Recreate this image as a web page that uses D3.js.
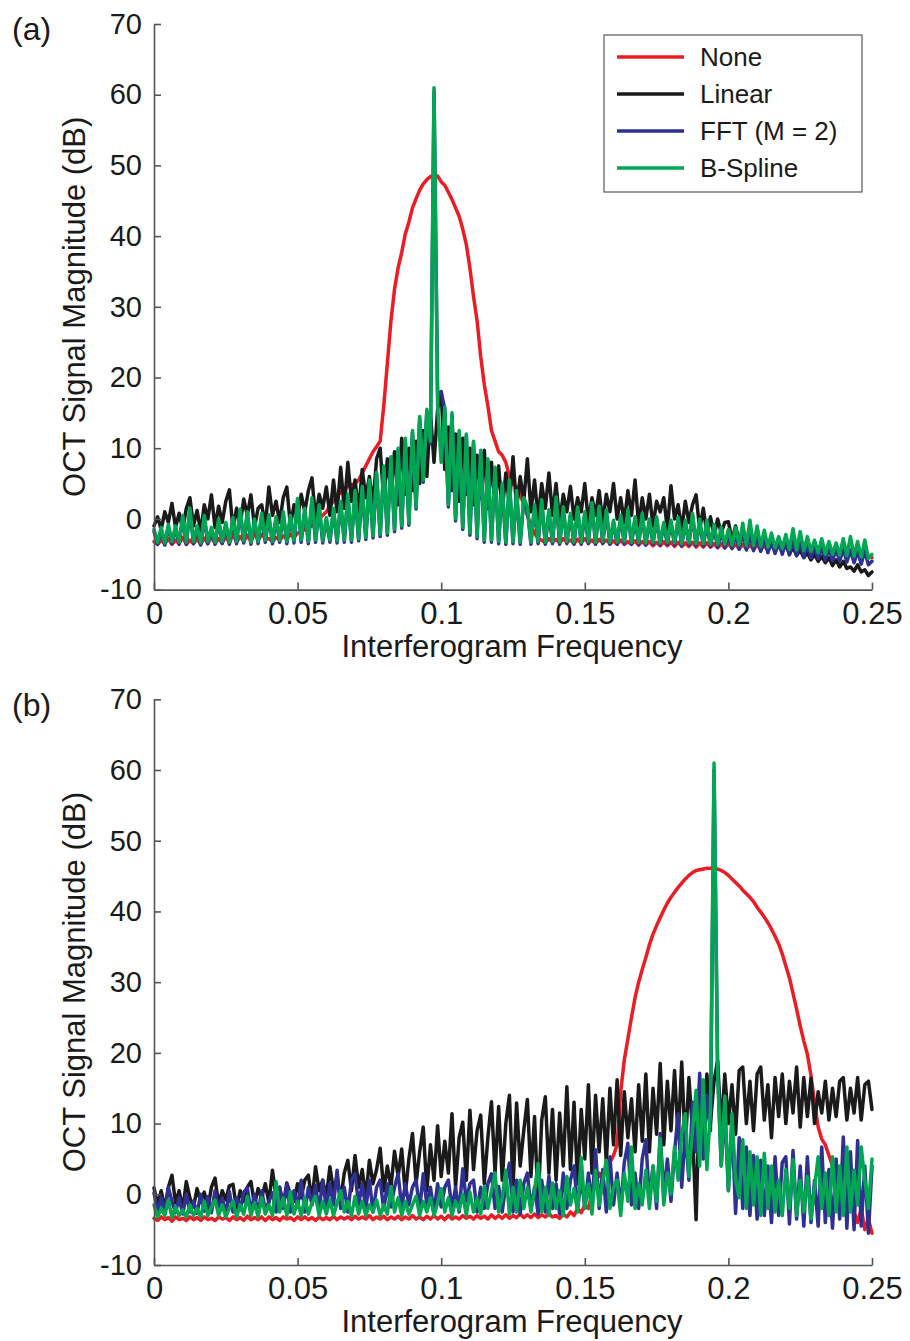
<!DOCTYPE html>
<html><head><meta charset="utf-8">
<script src="https://cdn.jsdelivr.net/npm/d3@7"></script>
<style>
body{margin:0;background:#fff;}
svg text{font-family:"Liberation Sans",Arial,Helvetica,sans-serif;fill:#1a1a1a;}
</style></head><body>
<svg id="chart" width="910" height="1341"></svg>
<script>
const seriesNames = ["None", "Linear", "FFT (M = 2)", "B-Spline"];
const seriesColors = ["#ec1c24", "#1a1a1a", "#2e3192", "#00a651"];
const xTicks = [0, 0.05, 0.1, 0.15, 0.2, 0.25];
const yTicks = [-10, 0, 10, 20, 30, 40, 50, 60, 70];
const xLabel = "Interferogram Frequency";
const yLabel = "OCT Signal Magnitude (dB)";
const panelLetters = ["(a)", "(b)"];
// sample frequencies (0 to 0.25, step 0.00125)
const freq = d3.range(201).map(i => +(i * 0.00125).toFixed(5));

// ---- panel (a) ----
const noneA = [
-3.2,-3.6,-3.0,-3.5,-2.8,-3.6,-3.0,-3.5,
-2.6,-3.6,-3.0,-3.5,-2.8,-3.6,-2.7,-3.5,
-2.5,-3.5,-2.8,-3.4,-2.5,-3.4,-2.2,-3.3,
-2.5,-3.2,-2.3,-3.2,-2.0,-3.0,-2.2,-2.8,
-2.8,-3.2,-2.6,-3.0,-2.4,-2.8,-2.2,-2.6,
-2.0,-1.8,-1.5,-1.2,-1.0,-0.5,0.0,0.5,
1.0,1.8,2.5,3.2,3.8,4.3,4.6,4.8,
5.0,5.5,6.5,7.5,8.5,9.5,10.2,11.0,
16.0,22.0,28.0,32.5,35.5,37.7,40.3,42.0,
44.0,45.3,46.5,47.4,48.0,48.4,48.6,48.5,
47.7,47.2,46.2,45.2,44.0,42.8,41.0,38.8,
35.5,31.5,28.0,23.0,19.0,16.0,12.5,11.0,
9.5,9.0,8.0,6.0,5.0,4.5,3.5,2.0,
0.5,-1.0,-2.0,-2.8,-3.0,-3.4,-2.8,-3.3,
-2.9,-3.4,-2.8,-3.3,-3.0,-3.5,-2.9,-3.4,
-2.8,-3.4,-3.0,-3.5,-2.9,-3.4,-3.0,-3.5,
-3.1,-3.6,-3.0,-3.6,-3.2,-3.6,-3.1,-3.7,
-3.2,-3.7,-3.2,-3.8,-3.3,-3.8,-3.2,-3.8,
-3.3,-3.9,-3.3,-3.9,-3.4,-3.9,-3.3,-4.0,
-3.4,-4.0,-3.4,-4.0,-3.5,-4.1,-3.5,-4.1,
-3.5,-4.1,-3.6,-4.2,-3.6,-4.2,-3.7,-4.3,
-3.7,-4.3,-3.8,-4.4,-3.8,-4.4,-3.9,-4.5,
-3.8,-4.5,-3.6,-4.6,-3.2,-4.6,-3.5,-4.7,
-3.8,-4.8,-3.6,-4.9,-4.0,-5.0,-4.2,-5.0,
-4.3,-5.1,-4.5,-5.2,-4.6,-5.3,-4.8,-5.4,
-5.5];
const linearA = [
-1.0,0.3,-1.5,1.0,-0.5,2.2,-1.2,0.8,
-1.5,1.5,3.0,-1.0,1.2,-1.8,2.0,0.0,
3.4,-1.2,1.8,-0.5,2.5,4.1,-1.5,1.5,
-0.8,2.8,0.5,3.4,-1.2,1.5,2.0,-1.0,
4.5,0.5,2.5,-0.5,3.0,4.5,-1.0,2.0,
0.0,3.5,1.0,4.0,5.8,0.0,3.5,1.5,
4.5,0.5,5.5,1.0,7.3,1.5,8.0,2.5,
5.5,1.0,7.0,3.0,6.0,2.0,8.5,10.0,
2.5,8.5,4.0,9.5,2.0,11.4,3.5,10.0,
4.0,11.0,5.0,12.5,6.0,15.0,8.0,15.5,
18.0,7.0,13.0,4.0,12.0,2.5,11.4,3.5,
10.0,2.0,9.0,3.0,9.7,1.5,8.0,2.0,
7.5,1.0,6.5,2.0,8.8,1.5,6.0,2.5,
8.5,1.0,5.5,0.0,5.0,1.5,6.5,0.5,
5.0,-0.5,3.5,1.0,4.6,0.0,3.0,1.0,
5.0,-0.5,3.0,0.5,4.0,-0.5,3.5,1.0,
5.0,0.0,3.0,-0.5,4.0,0.5,5.5,-1.0,
3.0,0.0,3.5,-1.0,2.5,1.0,3.0,-1.5,
4.7,0.0,2.0,-1.5,2.5,-0.5,2.0,3.4,
-1.5,1.5,-2.0,0.3,-2.5,0.0,-2.0,-0.5,
-0.4,-3.0,-1.0,-3.2,-1.5,-3.4,-1.2,-3.6,
-2.0,-3.8,-2.5,-4.2,-3.0,-4.5,-3.4,-4.6,
-3.6,-5.0,-4.0,-5.2,-4.4,-5.5,-4.8,-5.8,
-5.0,-6.0,-5.3,-6.2,-5.5,-6.6,-5.8,-6.8,
-6.0,-7.0,-6.8,-7.4,-6.5,-7.5,-7.2,-8.0,
-7.5];
const fftA = [
-1.8,-3.6,-1.5,-3.7,-1.1,-3.5,-1.3,-3.6,
0.2,-3.6,1.2,-3.5,-1.3,-3.7,0.2,-3.5,
-1.5,-3.6,-0.3,-3.5,-0.8,-3.6,-0.1,-3.5,
1.1,-3.4,0.7,-3.6,-0.3,-3.5,0.5,-3.3,
0.3,-3.5,0.0,-3.3,0.7,-3.5,0.2,-3.4,
2.6,-3.3,1.2,-3.5,2.7,-3.3,1.7,-3.4,
-0.1,-3.3,1.2,-3.4,2.2,-3.3,3.2,-3.3,
3.7,-3.1,4.3,-2.9,5.2,-2.7,6.3,-2.5,
7.2,-2.3,8.5,-1.8,9.7,-1.3,11.1,-0.9,
12.2,1.4,14.2,5.2,15.2,10.7,60.5,17.5,
18.0,15.5,1.7,14.7,-0.3,12.2,-1.5,11.7,
-2.3,10.7,-2.8,9.4,-3.3,8.2,-3.3,7.0,
-3.5,4.7,-3.6,5.2,-3.5,3.7,-3.6,2.7,
1.4,-3.6,1.7,-3.5,2.4,-3.6,1.0,-3.5,
2.8,-3.6,1.4,-3.5,0.5,-3.6,1.4,-3.6,
0.7,-3.5,2.0,-3.6,1.5,-3.5,1.0,-3.6,
-0.5,-3.6,0.2,-3.5,1.0,-3.6,0.0,-3.6,
0.5,-3.7,-0.3,-3.6,0.0,-3.7,-0.8,-3.6,
-0.5,-3.7,-0.1,-3.8,-0.5,-3.7,0.5,-3.8,
-0.5,-3.8,-0.8,-3.9,-1.3,-4.0,-1.8,-4.1,
-2.2,-4.2,-2.0,-4.3,-1.8,-4.4,-2.2,-4.5,
-2.5,-4.6,-2.8,-4.8,-3.0,-4.9,-3.3,-5.0,
-3.2,-5.1,-3.0,-5.2,-3.3,-5.4,-3.6,-5.5,
-3.9,-5.6,-4.0,-5.8,-4.2,-5.9,-4.3,-6.0,
-4.2,-6.1,-4.4,-6.2,-4.6,-6.4,-4.5,-6.5,
-6.0];
const bsplineA = [
-1.5,-3.3,-1.2,-3.4,-0.8,-3.2,-1.0,-3.3,
0.5,-3.3,1.5,-3.2,-1.0,-3.4,0.5,-3.2,
-1.2,-3.3,0.0,-3.2,-0.5,-3.3,0.2,-3.2,
1.4,-3.1,1.0,-3.3,0.0,-3.2,0.8,-3.0,
0.6,-3.2,0.3,-3.0,1.0,-3.2,0.5,-3.1,
2.9,-3.0,1.5,-3.2,3.0,-3.0,2.0,-3.1,
0.2,-3.0,1.5,-3.1,2.5,-3.0,3.5,-3.0,
4.0,-2.8,4.6,-2.6,5.5,-2.4,6.6,-2.2,
7.5,-2.0,8.8,-1.5,10.0,-1.0,11.4,-0.6,
12.5,1.7,14.5,5.5,15.5,11.0,61.0,16.0,
8.0,15.8,2.0,15.0,0.0,12.5,-1.2,12.0,
-2.0,11.0,-2.5,9.7,-3.0,8.5,-3.0,7.3,
-3.2,5.0,-3.3,5.5,-3.2,4.0,-3.3,3.0,
1.7,-3.3,2.0,-3.2,2.7,-3.3,1.3,-3.2,
3.1,-3.3,1.7,-3.2,0.8,-3.3,1.7,-3.3,
1.0,-3.2,2.3,-3.3,1.8,-3.2,1.3,-3.3,
-0.2,-3.3,0.5,-3.2,1.3,-3.3,0.3,-3.3,
0.8,-3.4,0.0,-3.3,0.3,-3.4,-0.5,-3.3,
-0.2,-3.4,0.2,-3.5,-0.2,-3.4,0.8,-3.5,
0.0,-3.5,-0.2,-3.6,-0.8,-3.6,-1.2,-3.6,
-1.5,-3.7,-1.2,-3.7,-0.6,-3.8,-0.2,-3.8,
-1.0,-3.9,-1.6,-4.0,-2.0,-4.1,-2.5,-4.2,
-2.2,-4.3,-1.4,-4.4,-1.8,-4.5,-2.5,-4.6,
-3.0,-4.8,-2.8,-5.0,-3.2,-5.0,-3.4,-5.1,
-2.8,-5.2,-2.5,-5.3,-3.2,-5.4,-3.0,-5.6,
-5.0];

// ---- panel (b) ----
const noneB = [
-3.4,-3.7,-3.2,-3.6,-3.3,-3.8,-3.2,-3.6,
-3.4,-3.7,-3.2,-3.6,-3.3,-3.7,-3.2,-3.6,
-3.4,-3.7,-3.2,-3.5,-3.3,-3.7,-3.2,-3.6,
-3.3,-3.7,-3.1,-3.6,-3.3,-3.6,-3.2,-3.7,
-3.2,-3.6,-3.3,-3.7,-3.2,-3.5,-3.3,-3.7,
-3.2,-3.6,-3.2,-3.6,-3.3,-3.7,-3.2,-3.6,
-3.3,-3.6,-3.1,-3.6,-3.2,-3.5,-3.2,-3.6,
-3.1,-3.5,-3.2,-3.5,-3.0,-3.6,-3.2,-3.5,
-3.1,-3.6,-3.2,-3.5,-3.1,-3.6,-3.2,-3.5,
-3.0,-3.5,-3.2,-3.6,-3.1,-3.5,-3.0,-3.5,
-3.1,-3.6,-3.0,-3.5,-3.2,-3.5,-3.0,-3.4,
-3.1,-3.5,-3.0,-3.4,-3.1,-3.5,-2.9,-3.4,
-3.0,-3.4,-2.9,-3.4,-3.0,-3.3,-2.8,-3.3,
-2.9,-3.3,-2.8,-3.3,-2.9,-3.2,-2.7,-3.2,
-3.0,-3.4,-2.8,-3.2,-2.5,-3.0,-2.0,-2.6,
-1.5,-2.0,0.0,1.5,3.0,2.0,4.0,4.5,
5.5,7.0,14.5,19.0,22.0,25.0,27.8,30.0,
31.8,33.5,35.3,36.8,38.0,39.1,40.2,41.2,
42.0,42.7,43.4,44.0,44.6,45.1,45.5,45.8,
45.9,46.0,46.1,46.1,46.1,46.0,45.8,45.5,
45.1,44.6,44.1,43.6,43.0,42.5,42.0,41.4,
40.6,39.9,39.2,38.4,37.5,36.5,35.4,34.0,
32.3,30.6,28.4,26.2,23.8,21.7,19.8,16.8,
13.0,9.5,7.8,7.0,5.5,4.0,2.5,1.0,
0.0,-1.5,0.5,-2.5,-4.0,-2.0,-5.0,-3.5,
-5.5];
const linearB = [
0.9,-1.5,0.5,-2.0,1.0,2.7,-1.2,0.5,
-2.2,1.8,-0.5,-1.8,0.8,-1.0,0.3,-2.0,
1.0,2.3,-1.5,0.5,-0.8,1.2,1.4,-2.0,
0.5,-1.0,1.0,1.8,-1.5,0.8,-0.5,1.5,
-1.2,3.4,-0.5,1.0,-1.5,1.6,0.0,-1.0,
1.5,-0.5,2.0,2.7,-1.0,3.9,0.5,2.0,
-0.5,3.9,0.5,2.5,-0.8,3.0,4.8,0.5,
5.5,1.0,3.5,-0.5,4.8,1.5,3.5,6.5,
0.5,4.0,1.0,6.1,2.5,6.4,0.0,5.0,
8.6,1.5,6.0,9.5,0.5,7.0,2.0,9.7,
2.5,7.5,3.0,11.4,1.0,8.0,10.2,2.0,
11.9,3.5,9.0,11.2,1.5,8.0,13.1,3.0,
12.4,2.0,10.0,14.0,1.0,12.9,4.0,9.0,
13.4,2.5,11.0,-1.5,10.5,13.8,3.0,12.0,
2.0,11.5,4.0,15.2,3.5,13.0,1.5,12.0,
5.0,15.5,3.0,14.0,6.0,13.5,4.5,15.0,
7.0,16.2,5.5,14.5,8.0,13.5,6.0,15.5,
7.5,17.0,6.0,15.0,8.5,18.5,7.0,16.0,
9.0,17.5,8.0,18.7,6.5,16.5,9.0,-3.6,
15.0,8.0,17.0,10.0,16.0,18.9,9.0,17.0,
10.0,15.5,8.5,17.5,18.0,10.0,16.0,9.0,
17.0,18.0,10.5,15.5,8.0,16.5,11.0,17.0,
10.0,16.0,11.5,18.0,9.5,16.5,11.0,16.4,
10.0,14.5,11.5,16.0,10.5,15.0,11.0,16.0,
16.5,10.5,15.0,11.5,16.5,10.5,15.5,16.0,
12.0];
const fftB = [
0.2,-2.5,-0.5,-2.8,1.0,-1.0,-2.6,-0.5,
-2.8,0.0,-2.5,-1.0,-2.7,0.0,-2.4,-0.3,
-2.6,0.5,-2.3,-0.5,-2.8,0.4,-2.5,-0.5,
-2.2,0.3,0.9,-2.5,0.0,-2.8,0.5,-2.2,
-1.0,0.2,-2.5,1.0,-2.0,1.4,-2.5,0.5,
-1.8,2.0,-2.5,1.0,-1.5,1.2,-2.2,2.0,
-2.0,1.5,-1.5,3.4,-2.0,1.0,-2.5,2.0,
2.9,-1.5,1.5,-2.0,2.0,-2.5,1.0,2.0,
-2.2,1.5,-1.8,1.0,2.9,-2.0,1.5,-1.5,
1.0,2.0,-2.2,2.9,-1.5,1.0,-2.5,1.5,
-1.8,1.0,2.0,-2.0,1.0,-2.5,3.6,-1.0,
1.5,2.0,-2.5,1.0,-2.0,1.5,2.9,-2.0,
1.1,-2.5,1.5,4.4,-2.5,2.0,-2.8,1.5,
3.0,-2.0,1.0,-2.8,2.0,-2.5,2.6,-2.0,
1.5,-2.8,3.0,-2.0,2.0,4.0,-2.2,2.5,
-2.0,3.0,-1.5,6.3,-2.0,3.5,-2.5,5.3,
-1.5,3.0,-2.0,4.5,7.2,-1.5,3.0,-2.0,
5.0,7.7,-1.0,4.0,-2.0,8.6,0.0,5.0,
-1.0,6.0,11.4,1.0,9.0,2.0,13.0,6.0,
17.1,5.0,14.0,9.0,60.0,17.7,4.0,12.0,
0.5,10.5,-2.7,8.0,-2.0,6.7,-3.0,5.5,
-3.5,4.8,-3.0,4.0,-4.0,5.3,-3.0,4.5,
5.3,-4.2,6.2,-3.5,4.0,-4.5,5.3,-4.0,
2.0,-4.5,6.7,-4.0,3.5,-4.8,5.0,-3.5,
8.1,-4.8,6.0,-5.0,7.6,-4.5,4.0,-5.5,
4.0];
const bsplineB = [
-1.5,-3.2,-2.0,-3.0,-0.8,-3.3,-1.8,-3.0,
-2.2,-3.2,-1.5,-3.0,-2.0,-3.2,-1.0,-3.0,
-1.8,-0.8,-3.0,-1.5,-3.2,-2.0,-1.0,-3.2,
-1.5,-2.8,-0.3,-3.0,-1.2,-3.2,-0.5,-2.8,
-1.5,-3.0,1.8,-2.5,-0.5,-3.0,0.4,-2.8,
-1.0,-3.0,-0.5,-2.8,-1.2,-0.3,-3.0,-1.0,
-2.8,-0.8,-3.0,-1.2,0.5,-2.5,-1.0,-3.0,
-0.3,-2.8,-1.0,-3.0,-1.5,-2.5,-0.8,-3.0,
-1.5,-2.8,1.1,-2.5,-0.5,-3.0,-1.0,-2.8,
-1.5,-0.3,-3.0,-1.0,-2.5,-0.5,-3.0,-1.2,
0.8,-2.5,-0.5,-3.0,-1.0,-2.2,0.0,-3.0,
0.3,-2.5,-0.5,-2.8,1.1,-2.0,0.5,3.0,
-2.5,-0.5,3.4,-2.8,1.0,-2.5,2.0,-2.0,
1.0,-2.5,0.5,4.4,-2.5,1.0,-3.0,1.6,
-2.0,0.5,-3.0,2.5,-1.5,0.8,-2.5,5.2,
-2.0,1.5,-2.8,3.4,-1.5,2.0,4.8,-2.0,
1.0,2.0,-3.0,3.0,-1.0,6.7,-2.0,1.5,
-1.5,3.4,-2.0,4.0,-1.0,7.9,-1.5,3.0,
0.0,6.7,2.0,8.5,11.4,2.5,9.0,14.7,
4.0,16.2,3.5,12.0,61.0,17.1,4.0,13.9,
0.5,11.4,2.0,-0.5,7.7,-2.0,6.0,-1.5,
5.3,-3.0,5.8,-2.0,4.0,-2.5,2.0,-3.0,
3.5,-2.0,4.9,-3.0,2.0,-2.5,2.5,-3.5,
1.0,5.3,-2.0,3.0,-3.0,5.3,-2.5,4.0,
-3.0,6.7,-2.5,3.4,-1.5,6.7,2.0,-2.0,
5.0];

const svg = d3.select("#chart");
const x = d3.scaleLinear().domain([0, 0.25]).range([154, 872]);
const axisColor = "#555";

function drawPanel(top, bottom, series, letter, letterY, showLegend) {
  const y = d3.scaleLinear().domain([-10, 70]).range([bottom, top]);
  const g = svg.append("g");
  const line = d3.line().x((d, i) => x(freq[i])).y(d => y(d));
  series.forEach((s, k) => {
    g.append("path").attr("d", line(s)).attr("fill", "none")
      .attr("stroke", seriesColors[k]).attr("stroke-width", 3.5)
      .attr("stroke-linejoin", "round").attr("stroke-linecap", "round");
  });
  const xa = g.append("g").attr("transform", `translate(0,${bottom})`)
    .call(d3.axisBottom(x).tickValues(xTicks).tickSizeInner(-7).tickSizeOuter(0)
      .tickPadding(12).tickFormat(d => String(d)));
  xa.selectAll("text").attr("font-size", 31).style("fill", "#1a1a1a");
  const ya = g.append("g").attr("transform", `translate(154,0)`)
    .call(d3.axisLeft(y).tickValues(yTicks).tickSizeInner(-7).tickSizeOuter(0)
      .tickPadding(12).tickFormat(d => String(d)));
  ya.selectAll("text").attr("font-size", 29).style("fill", "#1a1a1a");
  [xa, ya].forEach(a => {
    a.select(".domain").attr("stroke", axisColor).attr("stroke-width", 1.6);
    a.selectAll(".tick line").attr("stroke", axisColor).attr("stroke-width", 1.6);
  });
  g.append("text").attr("x", 512).attr("y", bottom + 67)
    .attr("text-anchor", "middle").attr("font-size", 31).text(xLabel);
  g.append("text").attr("transform", `translate(85,${(top + bottom) / 2}) rotate(-90)`)
    .attr("text-anchor", "middle").attr("font-size", 31).text(yLabel);
  g.append("text").attr("x", 12).attr("y", letterY).attr("font-size", 32).text(letter);

  if (showLegend) {
    const lg = g.append("g");
    lg.append("rect").attr("x", 604).attr("y", 35).attr("width", 258).attr("height", 157)
      .attr("fill", "#fff").attr("stroke", "#666").attr("stroke-width", 1.3);
    seriesNames.forEach((n, k) => {
      const yy = 57 + k * 37;
      lg.append("line").attr("x1", 617).attr("x2", 684).attr("y1", yy).attr("y2", yy)
        .attr("stroke", seriesColors[k]).attr("stroke-width", 3.5);
      lg.append("text").attr("x", 700).attr("y", yy).attr("dy", "0.36em")
        .attr("font-size", 26).text(n);
    });
  }
}

drawPanel(24, 589.6, [noneA, linearA, fftA, bsplineA], panelLetters[0], 40, true);
drawPanel(699.3, 1265, [noneB, linearB, fftB, bsplineB], panelLetters[1], 716, false);
</script>
</body></html>
